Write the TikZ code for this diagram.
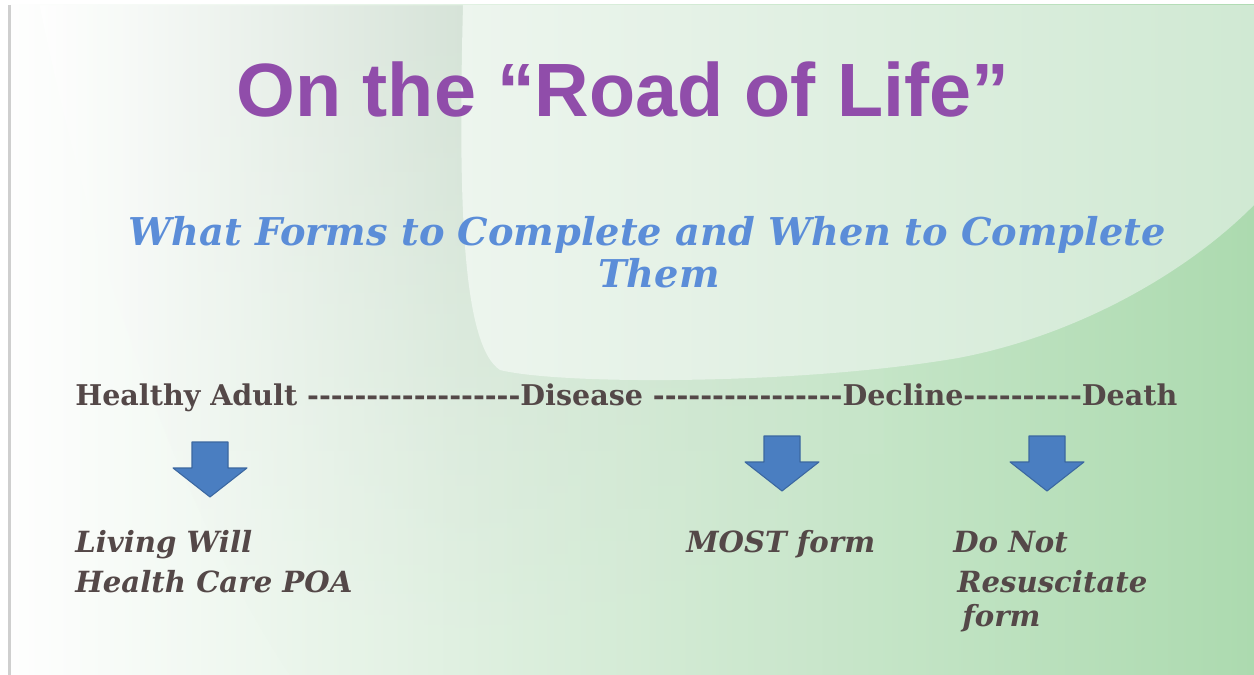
\documentclass[tikz,border=0pt]{standalone}
\usepackage{fontspec}
\setmainfont{DejaVu Serif}
\newfontfamily\headfont{Liberation Sans}
\usetikzlibrary{fadings}

\definecolor{titlepurple}{HTML}{904DAA}
\definecolor{subblue}{HTML}{5B8DD8}
\definecolor{inkbrown}{HTML}{544848}
\definecolor{arrowblue}{HTML}{4A7EC1}
\definecolor{arrowedge}{HTML}{3B67A0}
\definecolor{paleleft}{HTML}{FEFEFE}
\definecolor{greenright}{HTML}{ACDAAF}
\definecolor{lightleft}{HTML}{EDF5EE}
\definecolor{lightright}{HTML}{D0E9D3}
\definecolor{bandmid}{HTML}{D6E3D8}
\definecolor{bandright}{HTML}{C8E5CA}
\definecolor{rulegray}{HTML}{CFCFCF}

% band shading: even ramp white -> gray green -> green over the whole path
\pgfdeclarehorizontalshading{bandshade}{100bp}{color(0bp)=(white); color(25bp)=(white);
    color(50bp)=(bandmid); color(75bp)=(bandright); color(100bp)=(bandright)}

% a run of single hyphens (no en-dash ligatures)
\newcommand{\dashrun}[1]{\foreach \k in {1,...,#1}{-\kern0pt}}

\begin{document}
\begin{tikzpicture}[
    x=0.02cm, y=-0.02cm,
    titletext/.style={anchor=base, text=titlepurple, font=\headfont\bfseries\fontsize{43}{50}\selectfont},
    subtext/.style={anchor=base, inner sep=0pt, text=subblue, font=\bfseries\itshape\fontsize{21.8}{26}\selectfont},
    roadtext/.style={anchor=base west, inner sep=0pt, text=inkbrown, font=\bfseries\fontsize{16.25}{19}\selectfont},
    formtext/.style={anchor=base west, inner sep=0pt, text=inkbrown, font=\bfseries\itshape\fontsize{16.6}{20}\selectfont},
    downarrow/.pic={
        \filldraw[fill=arrowblue, draw=arrowedge, line width=0.6pt, line join=round]
            (-18,0) -- (18,0) -- (18,26) -- (37,26) -- (0,55) -- (-37,26) -- (-18,26) -- cycle;
    }
]
\useasboundingbox (0,0) rectangle (1254,675);

% background of the slide
\fill[white] (0,0) rectangle (1254,675);
\shade[left color=paleleft, right color=greenright] (11,5) rectangle (1254,675);
\shade[shading=bandshade, path fading=south]
    (40,5) .. controls (100,300) and (190,520) .. (290,675) -- (884,675) -- (884,5) -- cycle;
\shade[left color=lightleft, right color=lightright]
    (463,5) .. controls (458,200) and (462,345) .. (500,370)
    .. controls (560,385) and (800,385) .. (958,358)
    .. controls (1080,335) and (1190,270) .. (1254,205) -- (1254,5) -- cycle;
\draw[rulegray, line width=1.7pt] (9.5,5) -- (9.5,675);

% title and subtitle
\node[titletext] (title) at (623,117) {On the “Road of Life”};
\node[subtext] (sub1) at (647,246) {What Forms to Complete and When to Complete};
\node[subtext] (sub2) at (659,288) {Them};

% the road
\node[roadtext] (road) at (75,405) {Healthy Adult \dashrun{18}Disease \dashrun{16}Decline\dashrun{10}Death};

% block arrows
\foreach \x/\y in {210/442, 782/436, 1047/436} {
    \pic at (\x,\y) {downarrow};
}

% forms under the arrows
\node[formtext] (living) at (75,552) {Living Will};
\node[formtext] (hcpoa) at (75,592) {Health Care POA};
\node[formtext] (most) at (686,552) {MOST form};
\node[formtext] (dnr1) at (953,552) {Do Not};
\node[formtext] (dnr2) at (957,592) {Resuscitate};
\node[formtext] (dnr3) at (962,626) {form};

\end{tikzpicture}
\end{document}
